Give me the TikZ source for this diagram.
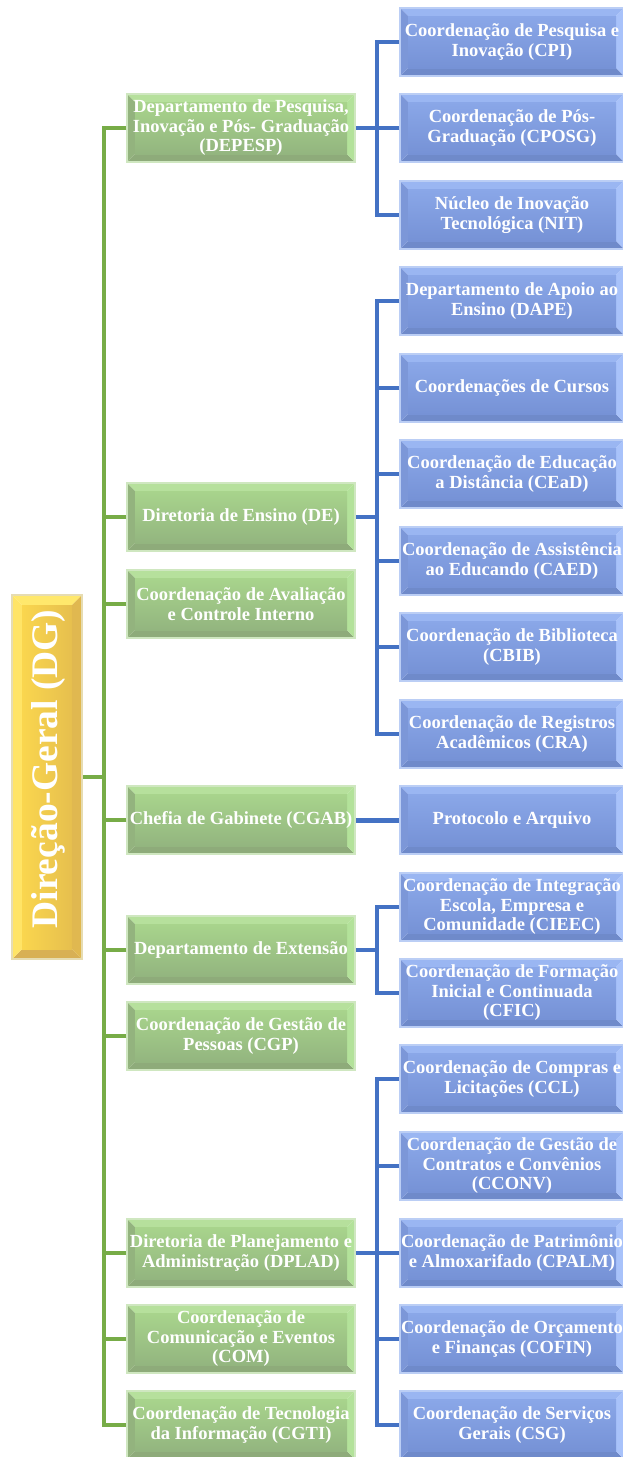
\documentclass[tikz,border=0pt]{standalone}
\usepackage{fontspec}
\setmainfont{Liberation Serif}
\usetikzlibrary{calc}

\definecolor{gT}{HTML}{B6E09C}
\definecolor{gB}{HTML}{8EAB7A}
\definecolor{gL}{HTML}{93B37E}
\definecolor{gR}{HTML}{B3E29A}
\definecolor{gFa}{HTML}{A8D48C}
\definecolor{gFb}{HTML}{93B57F}
\definecolor{gE}{HTML}{CFE7C0}
\definecolor{bT}{HTML}{9AB6F2}
\definecolor{bB}{HTML}{6F8ACA}
\definecolor{bL}{HTML}{7C97D8}
\definecolor{bR}{HTML}{A8C2FA}
\definecolor{bFa}{HTML}{8AA7E8}
\definecolor{bFb}{HTML}{7692D6}
\definecolor{bE}{HTML}{BBCEF5}
\definecolor{yT}{HTML}{FFE86C}
\definecolor{yB}{HTML}{D8B054}
\definecolor{yL}{HTML}{FFE466}
\definecolor{yR}{HTML}{E0B850}
\definecolor{yFa}{HTML}{FAD64E}
\definecolor{yFb}{HTML}{E6BF4E}
\definecolor{yE}{HTML}{E6DCB2}
\definecolor{lg}{HTML}{77AC47}
\definecolor{lb}{HTML}{4472C4}

\newcommand\bevelpic[6]{%
 \fill[#1] (path picture bounding box.north west) -- (path picture bounding box.north east)
   -- ([xshift=-#6,yshift=-#6]path picture bounding box.north east)
   -- ([xshift=#6,yshift=-#6]path picture bounding box.north west) -- cycle;
 \fill[#2] (path picture bounding box.south west) -- (path picture bounding box.south east)
   -- ([xshift=-#6,yshift=#6]path picture bounding box.south east)
   -- ([xshift=#6,yshift=#6]path picture bounding box.south west) -- cycle;
 \fill[#3] (path picture bounding box.north west) -- (path picture bounding box.south west)
   -- ([xshift=#6,yshift=#6]path picture bounding box.south west)
   -- ([xshift=#6,yshift=-#6]path picture bounding box.north west) -- cycle;
 \fill[#4] (path picture bounding box.north east) -- (path picture bounding box.south east)
   -- ([xshift=-#6,yshift=#6]path picture bounding box.south east)
   -- ([xshift=-#6,yshift=-#6]path picture bounding box.north east) -- cycle;
 \shade[#5] ([xshift=#6,yshift=-#6]path picture bounding box.north west)
   rectangle ([xshift=-#6,yshift=#6]path picture bounding box.south east);
}

\tikzset{
 box/.style={rectangle, inner sep=0pt, text=white, align=center, line width=1.5pt,
   font=\bfseries\fontsize{18.5}{19.5}\selectfont},
 gbox/.style={box, minimum width=228pt, minimum height=68pt, draw=gE,
   path picture={\bevelpic{gT}{gB}{gL}{gR}{top color=gFa,bottom color=gFb}{8pt}}},
 bbox/.style={box, minimum width=224pt, minimum height=68pt, draw=bE,
   path picture={\bevelpic{bT}{bB}{bL}{bR}{top color=bFa,bottom color=bFb}{8pt}}},
 ybox/.style={box, minimum width=70pt, minimum height=364pt, draw=yE,
   path picture={\bevelpic{yT}{yB}{yL}{yR}{left color=yFa,right color=yFb}{10pt}}},
 dgtext/.style={rotate=90, text=white, inner sep=0pt, font=\bfseries\fontsize{37.5}{40}\selectfont},
 gline/.style={draw=lg, line width=3.5pt},
 bline/.style={draw=lb, line width=3.2pt},
}

\begin{document}
\begin{tikzpicture}[x=1pt,y=-1pt]
\useasboundingbox (0,0) rectangle (622,1457);

% Direção-Geral
\node[ybox] (dg) at (47,777) {};
\node[dgtext] (dgt) at (48,769) {Direção-Geral (DG)};

% green level
\node[gbox] (depesp) at (241,128) {Departamento de Pesquisa,\\Inovação e Pós- Graduação\\(DEPESP)};
\node[gbox] (de) at (241,517) {Diretoria de Ensino (DE)};
\node[gbox] (aval) at (241,604) {Coordenação de Avaliação\\e Controle Interno};
\node[gbox] (cgab) at (241,820) {Chefia de Gabinete (CGAB)};
\node[gbox] (ext) at (241,950) {Departamento de Extensão};
\node[gbox] (cgp) at (241,1036) {Coordenação de Gestão de\\Pessoas (CGP)};
\node[gbox] (dplad) at (241,1253) {Diretoria de Planejamento e\\Administração (DPLAD)};
\node[gbox] (com) at (241,1339) {Coordenação de\\Comunicação e Eventos\\(COM)};
\node[gbox] (cgti) at (241,1425) {Coordenação de Tecnologia\\da Informação (CGTI)};

% blue level
\node[bbox] (cpi) at (512,42) {Coordenação de Pesquisa e\\Inovação (CPI)};
\node[bbox] (cposg) at (512,128) {Coordenação de Pós-\\Graduação (CPOSG)};
\node[bbox] (nit) at (512,215) {Núcleo de Inovação\\Tecnológica (NIT)};
\node[bbox] (dape) at (512,301) {Departamento de Apoio ao\\Ensino (DAPE)};
\node[bbox] (cursos) at (512,388) {Coordenações de Cursos};
\node[bbox] (cead) at (512,474) {Coordenação de Educação\\a Distância (CEaD)};
\node[bbox] (caed) at (512,561) {Coordenação de Assistência\\ao Educando (CAED)};
\node[bbox] (cbib) at (512,647) {Coordenação de Biblioteca\\(CBIB)};
\node[bbox] (cra) at (512,734) {Coordenação de Registros\\Acadêmicos (CRA)};
\node[bbox] (prot) at (512,820) {Protocolo e Arquivo};
\node[bbox] (cieec) at (512,907) {Coordenação de Integração\\Escola, Empresa e\\Comunidade (CIEEC)};
\node[bbox] (cfic) at (512,993) {Coordenação de Formação\\Inicial e Continuada\\(CFIC)};
\node[bbox] (ccl) at (512,1079) {Coordenação de Compras e\\Licitações (CCL)};
\node[bbox] (cconv) at (512,1166) {Coordenação de Gestão de\\Contratos e Convênios\\(CCONV)};
\node[bbox] (cpalm) at (512,1253) {Coordenação de Patrimônio\\e Almoxarifado (CPALM)};
\node[bbox] (cofin) at (512,1339) {Coordenação de Orçamento\\e Finanças (COFIN)};
\node[bbox] (csg) at (512,1425) {Coordenação de Serviços\\Gerais (CSG)};

% bus positions
\coordinate (tr) at (104,0);
\coordinate (bx) at (377,0);

% green trunk
\draw[gline] (depesp.west) -| (tr |- cgti.west) -- (cgti.west);
\draw[gline] (dg.east) -- (dg.east -| tr);
\foreach \n in {de,aval,cgab,ext,cgp,dplad,com}
  \draw[gline] (\n.west) -- (\n.west -| tr);

% blue groups
\draw[bline] (cpi.west) -| (bx |- nit.west) -- (nit.west);
\draw[bline] (depesp.east) -- (depesp.east -| bx);
\draw[bline] (cposg.west) -- (cposg.west -| bx);

\draw[bline] (dape.west) -| (bx |- cra.west) -- (cra.west);
\draw[bline] (de.east) -- (de.east -| bx);
\foreach \n in {cursos,cead,caed,cbib}
  \draw[bline] (\n.west) -- (\n.west -| bx);

\draw[bline, line width=5pt] (cgab.east) -- (prot.west);

\draw[bline] (cieec.west) -| (bx |- cfic.west) -- (cfic.west);
\draw[bline] (ext.east) -- (ext.east -| bx);

\draw[bline] (ccl.west) -| (bx |- csg.west) -- (csg.west);
\draw[bline] (dplad.east) -- (dplad.east -| bx);
\foreach \n in {cconv,cpalm,cofin}
  \draw[bline] (\n.west) -- (\n.west -| bx);
\end{tikzpicture}
\end{document}
